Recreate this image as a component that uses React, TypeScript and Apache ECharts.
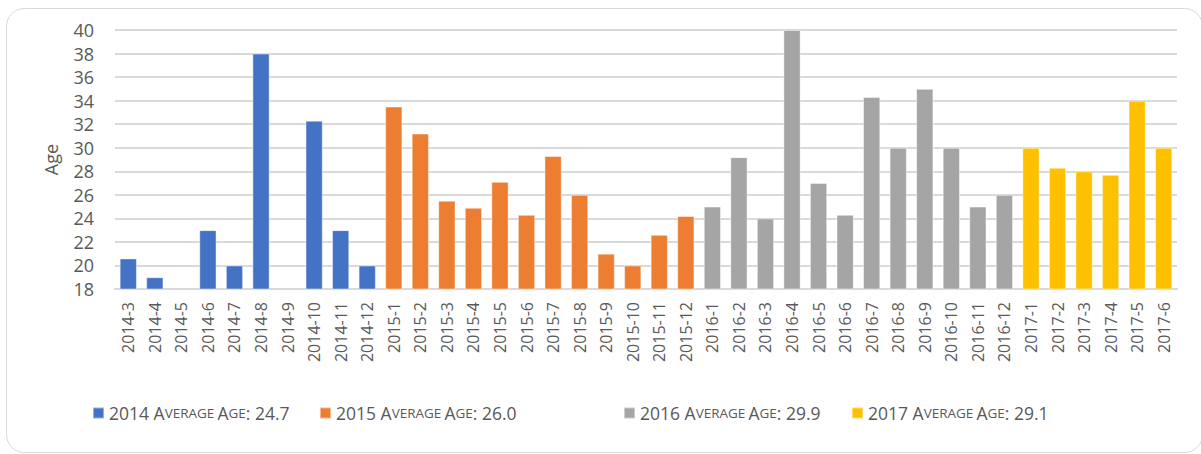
import React, { useEffect, useRef } from "react";
import * as echarts from "echarts";

const categories = [
  "2014-3", "2014-4", "2014-5", "2014-6", "2014-7", "2014-8", "2014-9", "2014-10", "2014-11", "2014-12",
  "2015-1", "2015-2", "2015-3", "2015-4", "2015-5", "2015-6", "2015-7", "2015-8", "2015-9", "2015-10", "2015-11", "2015-12",
  "2016-1", "2016-2", "2016-3", "2016-4", "2016-5", "2016-6", "2016-7", "2016-8", "2016-9", "2016-10", "2016-11", "2016-12",
  "2017-1", "2017-2", "2017-3", "2017-4", "2017-5", "2017-6",
];

const values2014 = [20.6, 19.0, null, 23.0, 20.0, 38.0, null, 32.3, 23.0, 20.0];
const values2015 = [33.5, 31.2, 25.5, 24.9, 27.1, 24.3, 29.3, 26.0, 21.0, 20.0, 22.6, 24.2];
const values2016 = [25.0, 29.2, 24.0, 40.0, 27.0, 24.3, 34.3, 30.0, 35.0, 30.0, 25.0, 26.0];
const values2017 = [30.0, 28.3, 28.0, 27.7, 34.0, 30.0];

const years = ["2014", "2015", "2016", "2017"];
const averages = ["24.7", "26.0", "29.9", "29.1"];
const colors = ["#4472C4", "#ED7D31", "#A5A5A5", "#FFC000"];
const legendLefts = [92, 319, 623, 851];

const yMin = 18;
const yMax = 40;
const yInterval = 2;

const FONT = "'Open Sans', 'Noto Sans', sans-serif";

function placeValues(vals: (number | null)[], prefix: string): (number | null)[] {
  const start = categories.findIndex((c) => c.startsWith(prefix + "-"));
  return categories.map((_, i) => {
    const k = i - start;
    return k >= 0 && k < vals.length ? vals[k] : null;
  });
}

const yearValues = [values2014, values2015, values2016, values2017];

export default function App() {
  const ref = useRef<HTMLDivElement>(null);
  useEffect(() => {
    if (!ref.current) return;
    const chart = echarts.init(ref.current, null, { renderer: "svg" });
    const names = years.map((y, i) => `${y} Average Age: ${averages[i]}`);
    const series = years.map((y, i) => ({
      name: names[i],
      type: "bar",
      stack: "all",
      barWidth: "65%",
      data: placeValues(yearValues[i], y),
      itemStyle: {
        color: colors[i],
        borderColor: "rgba(255,255,255,0.45)",
        borderWidth: 1,
      },
    }));
    const legends = years.map((y, i) => ({
      data: [names[i]],
      left: legendLefts[i],
      top: 404,
      padding: 0,
      icon: "rect",
      itemWidth: 11,
      itemHeight: 11,
      itemGap: 4,
      formatter: () =>
        `{n|${y} A}{s|VERAGE} {n|A}{s|GE}{n|: ${averages[i]}}`,
      textStyle: {
        color: "#595959",
        fontFamily: FONT,
        rich: {
          n: { fontSize: 17.5, color: "#595959", fontFamily: FONT },
          s: { fontSize: 13.5, color: "#595959", fontFamily: FONT },
        },
      },
    }));
    chart.setOption({
      animation: false,
      grid: { left: 115, right: 24, top: 30, bottom: 165, containLabel: false },
      graphic: [
        {
          type: "rect",
          shape: { x: 6.5, y: 8.5, width: 1196, height: 444, r: 18 },
          style: { fill: "none", stroke: "#d9d9d9", lineWidth: 1 },
          silent: true,
        },
      ],
      legend: legends,
      xAxis: {
        type: "category",
        data: categories,
        axisTick: { show: false },
        axisLine: { lineStyle: { color: "#d9d9d9", width: 2 } },
        axisLabel: {
          rotate: 90,
          interval: 0,
          margin: 13,
          color: "#595959",
          fontSize: 16,
          fontFamily: FONT,
        },
      },
      yAxis: {
        type: "value",
        min: yMin,
        max: yMax,
        interval: yInterval,
        name: "Age",
        nameLocation: "middle",
        nameGap: 55,
        nameTextStyle: { color: "#595959", fontSize: 18, fontFamily: FONT },
        axisLine: { show: false },
        axisTick: { show: false },
        axisLabel: { color: "#595959", fontSize: 18, fontFamily: FONT, margin: 21 },
        splitLine: { lineStyle: { color: "#d9d9d9", width: 1.8 } },
      },
      series,
    });
    return () => chart.dispose();
  }, []);
  return (
    <div
      ref={ref}
      style={{ position: "absolute", left: 0, top: 0, width: 1201, height: 454 }}
    />
  );
}
